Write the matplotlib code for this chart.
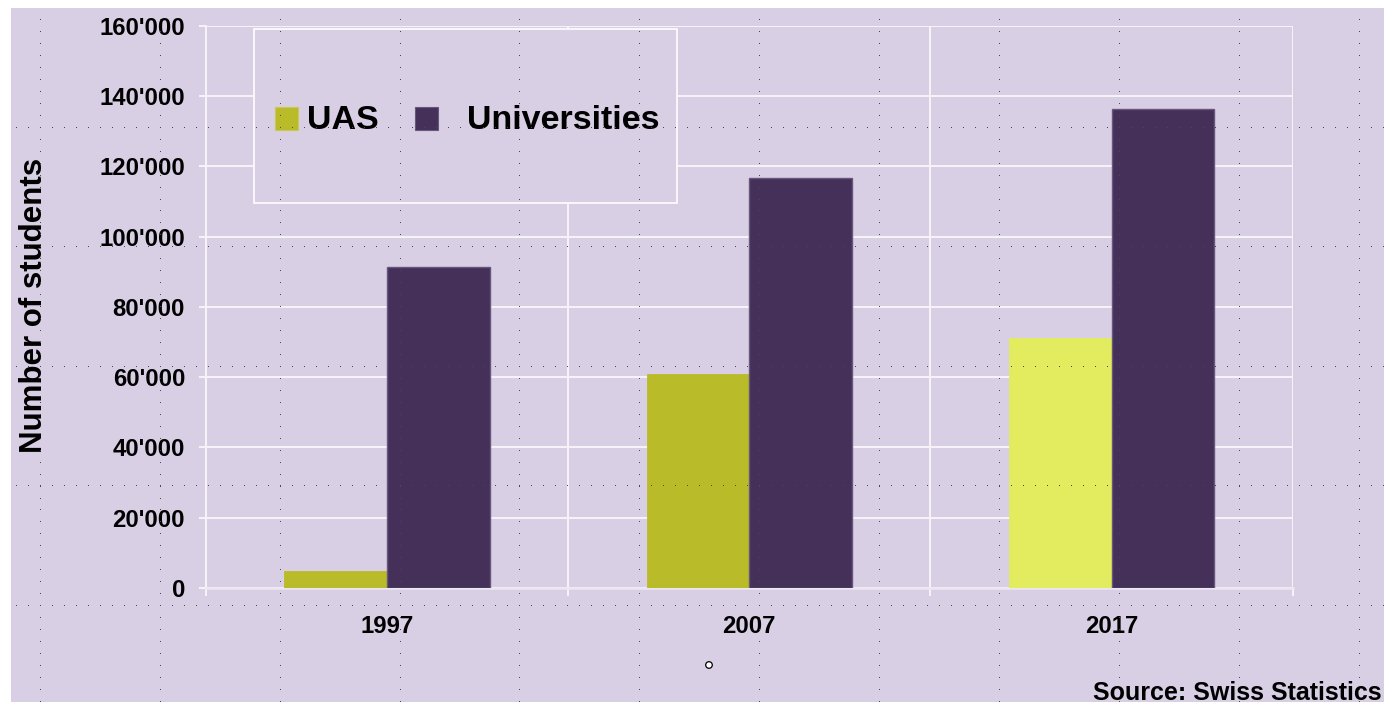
import numpy as np
import matplotlib
matplotlib.use('Agg')
import matplotlib.pyplot as plt
from matplotlib.patches import Rectangle, Circle
from matplotlib.ticker import FixedLocator, FuncFormatter, NullFormatter

# ---------------- data ----------------
years = ['1997', '2007', '2017']
uas = [4900, 60900, 71200]
universities = [91300, 116700, 136200]
series_labels = ['UAS', 'Universities']
y_ticks = [0, 20000, 40000, 60000, 80000, 100000, 120000, 140000, 160000]
y_label = 'Number of students'
source_text = 'Source: Swiss Statistics'

# ---------------- style ----------------
LAVENDER = '#d8cfe4'
OLIVE = '#b9bb28'
YELLOW = '#e2ec5e'
PURPLE = '#45305a'
uas_colors = [OLIVE, OLIVE, YELLOW]

plt.rcParams['font.family'] = ['Liberation Sans', 'DejaVu Sans']
plt.rcParams['font.weight'] = 'bold'

W, H = 1384, 702
fig = plt.figure(figsize=(W / 100, H / 100), dpi=100)
fig.patch.set_facecolor('white')

# background panel
ax_bg = fig.add_axes([0, 0, 1, 1], zorder=0)
ax_bg.set_xlim(0, W)
ax_bg.set_ylim(H, 0)
ax_bg.axis('off')
ax_bg.add_patch(Rectangle((11, 7.5), W - 11, H - 7.5, facecolor=LAVENDER, edgecolor='none'))

# main axes
x0, x1, ytop, ybot = 205.8, 1292.7, 25.8, 588.0
ax = fig.add_axes([x0 / W, (H - ybot) / H, (x1 - x0) / W, (ybot - ytop) / H], zorder=1)
ax.set_facecolor('none')
x = np.arange(len(years))
cat_px = (x1 - x0) / len(years)
w = 102.7 / cat_px

ax.bar(x - w / 2, uas, w, color=uas_colors, edgecolor=uas_colors, linewidth=0.6, zorder=3)
ax.bar(x + w / 2, universities, w, color=PURPLE, edgecolor='#66577b', linewidth=1.0, zorder=3)

ax.set_xlim(-0.5, len(years) - 0.5)
ax.set_ylim(0, 160000)
ax.set_axisbelow(True)

ax.yaxis.set_major_locator(FixedLocator(y_ticks))
ax.yaxis.set_major_formatter(FuncFormatter(lambda v, p: f"{int(v):,}".replace(',', "'")))
ax.set_xticks(x)
ax.set_xticklabels(years)
ax.xaxis.set_minor_locator(FixedLocator(np.arange(-0.5, len(years), 1.0)))
ax.xaxis.set_minor_formatter(NullFormatter())

ax.grid(axis='y', which='major', color='#f6f4f9', linewidth=1.4)
ax.grid(axis='x', which='minor', color='#f6f4f9', linewidth=1.4)
ax.grid(axis='x', which='major', visible=False)

ax.tick_params(axis='y', which='major', length=4.9, width=1.4, color='#f6f4f9',
               labelsize=17.2, pad=10, labelcolor='black')
ax.tick_params(axis='x', which='major', length=0, labelsize=17.2, pad=19.5, labelcolor='black')
ax.tick_params(axis='x', which='minor', length=6.1, width=1.4, color='#f6f4f9')
for lab in ax.get_xticklabels() + ax.get_yticklabels():
    lab.set_fontweight('bold')

for s in ['top', 'right']:
    ax.spines[s].set_visible(False)
ax.spines['left'].set_color('#f6f4f9')
ax.spines['left'].set_linewidth(1.4)
ax.spines['bottom'].set_color('#ece7f2')
ax.spines['bottom'].set_linewidth(1.8)

ax.set_ylabel(y_label, fontsize=22.5, fontweight='bold')
ax.yaxis.set_label_coords((49.3 - x0) / (x1 - x0), (ybot - 305) / (ybot - ytop))

# overlay: legend, editor grid dots, source
ov = fig.add_axes([0, 0, 1, 1], zorder=5)
ov.set_xlim(0, W)
ov.set_ylim(H, 0)
ov.axis('off')
ov.patch.set_alpha(0)

# legend box
ov.add_patch(Rectangle((253.6, 29), 676.7 - 253.6, 203.3 - 29, facecolor=LAVENDER,
                       edgecolor='white', linewidth=1.2, zorder=2))
ov.add_patch(Rectangle((275, 107), 22.5, 22.5, facecolor=OLIVE, edgecolor='#c8ca55',
                       linewidth=0.8, zorder=3))
ov.text(307, 129.3, series_labels[0], fontsize=24.5, fontweight='bold', va='baseline',
        ha='left', zorder=3)
ov.add_patch(Rectangle((414.7, 107), 23, 22.5, facecolor=PURPLE, edgecolor='#66577b',
                       linewidth=0.8, zorder=3))
ov.text(467.3, 129.3, series_labels[1], fontsize=24.5, fontweight='bold', va='baseline',
        ha='left', zorder=3)

# editor grid dots
rows = [127.7 + 119.6 * j for j in range(5)]
cols = [40 + 119.87 * k for k in range(12)]
dx, dy = [], []
for yr in rows:
    xs = np.arange(16.0, W, 11.987)
    dx.extend(xs)
    dy.extend([yr] * len(xs))
for xc in cols:
    ys = np.arange(20.1, H, 11.96)
    dx.extend([xc] * len(ys))
    dy.extend(ys)
ov.plot(dx, dy, ',', color='#4a4a4a', zorder=4)

# small handle circle
ov.add_patch(Circle((709, 665), 3.3, facecolor='white', edgecolor='black', linewidth=0.9, zorder=5))

ov.text(1382, 699.5, source_text, fontsize=18, fontweight='bold', ha='right',
        va='baseline', zorder=5)

fig.savefig('out.png', dpi=100, facecolor=fig.get_facecolor())
